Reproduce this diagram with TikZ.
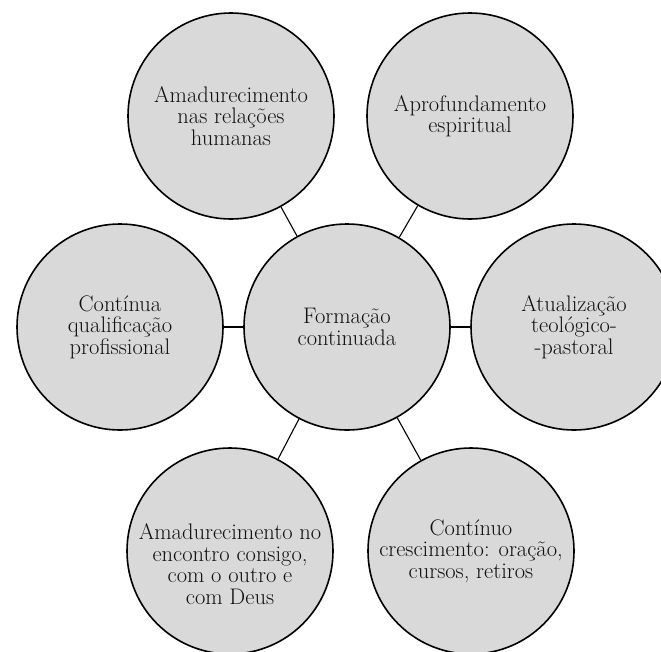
\documentclass[tikz,border=0pt]{standalone}
\usepackage{tikz}
\usetikzlibrary{positioning,calc}

\begin{document}
\begin{tikzpicture}[x=1pt,y=-1pt]
    \definecolor{colbubble}{HTML}{d9d9d9}
    \definecolor{coltext}{HTML}{111111}
    \tikzstyle{bubble}=[circle,fill=colbubble,draw=black,line width=1.6pt,
                        minimum size=206pt,inner sep=0pt]
    \tikzstyle{btext}=[align=center,text=coltext,font=\fontsize{22.5}{21.5}\selectfont]
    \tikzstyle{link}=[draw=black,line width=1.1pt]
    % frame
    \useasboundingbox (0,0) rectangle (661,651);
    \clip (0,0) rectangle (661,651);
    % circles
    \node[bubble] (form) at (347,327) {};
    \node[bubble] (rel)  at (231,116) {};
    \node[bubble] (esp)  at (470,116) {};
    \node[bubble] (prof) at (120,327) {};
    \node[bubble] (teo)  at (574,327) {};
    \node[bubble] (enc)  at (230,551) {};
    \node[bubble] (cre)  at (471,551) {};
    % links
    \draw[link] (form) -- (rel);
    \draw[link] (form) -- (esp);
    \draw[link] (form) -- (prof);
    \draw[link] (form) -- (teo);
    \draw[link] (form) -- (enc);
    \draw[link] (form) -- (cre);
    % labels
    \node[btext] (tform) at (form) {Formação\\continuada};
    \node[btext] (trel)  at (rel)  {Amadurecimento\\nas relações\\humanas};
    \node[btext] (tesp)  at (esp)  {Aprofundamento\\espiritual};
    \node[btext] (tprof) at (prof) {Contínua\\qualificação\\profissional};
    \node[btext] (tteo)  at (teo)  {Atualização\\teológico-\\-pastoral};
    \node[btext] (tenc)  at ($(enc)+(0,13)$) {Amadurecimento no\\encontro consigo,\\com o outro e\\com Deus};
    \node[btext] (tcre)  at (cre)  {Contínuo\\crescimento: oração,\\cursos, retiros};
\end{tikzpicture}
\end{document}
